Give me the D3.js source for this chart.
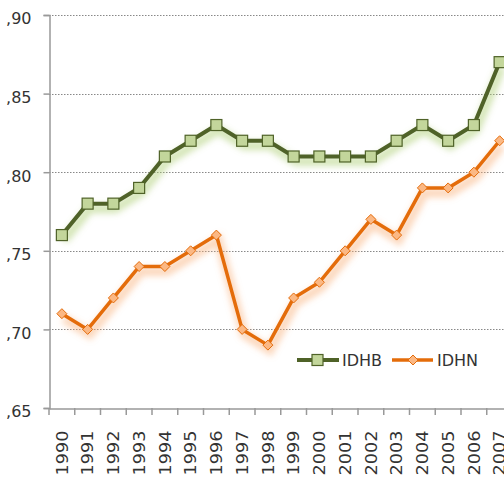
<!DOCTYPE html>
<html><head><meta charset="utf-8">
<script src="https://cdn.jsdelivr.net/npm/d3@7"></script>
<style>body{margin:0;background:#fff;}svg{display:block;}</style>
</head><body>
<script>
const years = ["1990","1991","1992","1993","1994","1995","1996","1997","1998","1999","2000","2001","2002","2003","2004","2005","2006","2007"];
const idhb = [0.76,0.78,0.78,0.79,0.81,0.82,0.83,0.82,0.82,0.81,0.81,0.81,0.81,0.82,0.83,0.82,0.83,0.87];
const idhn = [0.71,0.70,0.72,0.74,0.74,0.75,0.76,0.70,0.69,0.72,0.73,0.75,0.77,0.76,0.79,0.79,0.80,0.82];
const yTicks = [0.65,0.70,0.75,0.80,0.85,0.90];
const yTickLabels = [",65",",70",",75",",80",",85",",90"];
const seriesNames = ["IDHB","IDHN"];

const FONT = '"DejaVu Sans", sans-serif';
const W = 504, H = 479;
const svg = d3.select("body").append("svg").attr("width", W).attr("height", H);
const defs = svg.append("defs");
function shadow(id, color, op){
  const f = defs.append("filter").attr("id", id).attr("x","-10%").attr("y","-20%").attr("width","130%").attr("height","160%");
  f.append("feOffset").attr("in","SourceAlpha").attr("dx",2).attr("dy",5).attr("result","off");
  f.append("feGaussianBlur").attr("in","off").attr("stdDeviation",3).attr("result","blur");
  f.append("feFlood").attr("flood-color",color).attr("flood-opacity",op);
  f.append("feComposite").attr("in2","blur").attr("operator","in");
}
shadow("shB", "#a9cc6e", 0.5);
shadow("shN", "#f9b07a", 0.5);

const x = d3.scaleBand().domain(years).range([49, 49 + 18*25.75]);
const y = d3.scaleLinear().domain([0.65, 0.90]).range([408, 15]);

// gridlines
svg.append("g").selectAll("line").data(yTicks.slice(1)).join("line")
  .attr("x1", 49).attr("x2", W).attr("y1", d=>Math.round(y(d))+0.5).attr("y2", d=>Math.round(y(d))+0.5)
  .attr("stroke", "#888").attr("stroke-width", 1).attr("stroke-dasharray", "1.5,1.5");

// y axis
const yAxis = d3.axisLeft(y).tickValues(yTicks).tickFormat((d,i)=>yTickLabels[i]).tickSize(6).tickPadding(12);
const gy = svg.append("g").attr("transform","translate(49.5,0)").call(yAxis);
gy.select(".domain").attr("stroke","#999").attr("stroke-width",1.5);
gy.selectAll(".tick line").attr("stroke","#999").attr("stroke-width",1.5);
gy.selectAll(".tick text").style("font-family",FONT).style("font-size","16px").attr("fill","#333").attr("dy","0.55em");

// x axis
const xAxis = d3.axisBottom(x).tickSize(0).tickPadding(0);
const gx = svg.append("g").attr("transform","translate(0,408.5)").call(xAxis);
gx.select(".domain").attr("stroke","#999").attr("stroke-width",1.5);
gx.selectAll(".tick line").remove();
gx.selectAll(".tick text")
  .style("font-family",FONT).style("font-size","16px").attr("fill","#333")
  .attr("textLength",45).attr("lengthAdjust","spacingAndGlyphs")
  .attr("transform","rotate(-90)").attr("text-anchor","end").attr("dy","0.36em").attr("x",-22).attr("y",0);
// category separator ticks
const sep = d3.range(0, years.length+1).map(i=>x.range()[0] + i*x.step());
svg.append("g").selectAll("line").data(sep).join("line")
  .attr("x1", d=>d).attr("x2", d=>d).attr("y1", 408).attr("y2", 415)
  .attr("stroke","#999").attr("stroke-width",1.5);

const line = d3.line().x((d,i)=>x(years[i]) + x.bandwidth()/2).y(d=>y(d));

// shadows
svg.append("path").datum(idhb).attr("d", line).attr("fill","none").attr("stroke","#000").attr("stroke-width",9).attr("filter","url(#shB)");
svg.append("path").datum(idhn).attr("d", line).attr("fill","none").attr("stroke","#000").attr("stroke-width",9).attr("filter","url(#shN)");

// IDHN
svg.append("path").datum(idhn).attr("d", line).attr("fill","none").attr("stroke","#e46c0a").attr("stroke-width",3.5).attr("stroke-linejoin","round");
svg.append("g").selectAll("path").data(idhn).join("path")
  .attr("transform",(d,i)=>`translate(${x(years[i])+x.bandwidth()/2},${y(d)})`)
  .attr("d","M0,-5L5,0L0,5L-5,0Z").attr("fill","#fbb884").attr("stroke","#e46c0a").attr("stroke-width",1);

// IDHB
svg.append("path").datum(idhb).attr("d", line).attr("fill","none").attr("stroke","#4f6228").attr("stroke-width",4).attr("stroke-linejoin","round");
svg.append("g").selectAll("rect").data(idhb).join("rect")
  .attr("x",(d,i)=>x(years[i])+x.bandwidth()/2-5.5).attr("y",d=>y(d)-5.5)
  .attr("width",11).attr("height",11).attr("fill","#c3d69b").attr("stroke","#4f6228").attr("stroke-width",1.2);

// legend
const lg = svg.append("g");
lg.append("line").attr("x1",297).attr("x2",339).attr("y1",360).attr("y2",360).attr("stroke","#4f6228").attr("stroke-width",4);
lg.append("rect").attr("x",312).attr("y",354.5).attr("width",11).attr("height",11).attr("fill","#c3d69b").attr("stroke","#4f6228").attr("stroke-width",1.2);
lg.append("text").attr("x",342).attr("y",360).attr("dy","0.36em").style("font-family",FONT).style("font-size","16px").attr("fill","#333").text(seriesNames[0]);
lg.append("line").attr("x1",392).attr("x2",433).attr("y1",360).attr("y2",360).attr("stroke","#e46c0a").attr("stroke-width",3.5);
lg.append("path").attr("transform","translate(413,360)").attr("d","M0,-5L5,0L0,5L-5,0Z").attr("fill","#fbb884").attr("stroke","#e46c0a");
lg.append("text").attr("x",437).attr("y",360).attr("dy","0.36em").style("font-family",FONT).style("font-size","16px").attr("fill","#333").text(seriesNames[1]);
</script>
</body></html>
